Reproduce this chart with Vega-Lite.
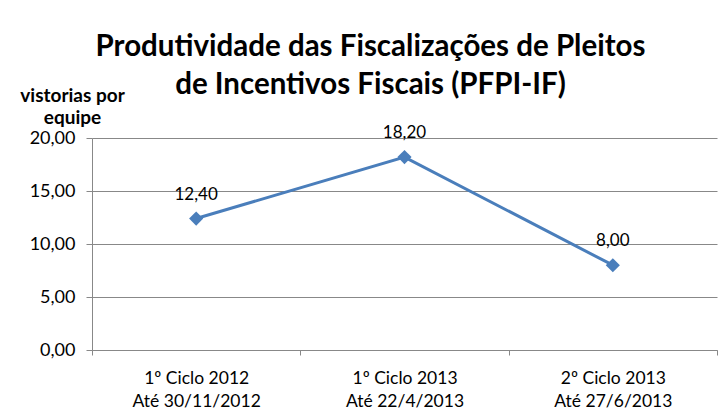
{
  "$schema": "https://vega.github.io/schema/vega-lite/v6.json",
  "width": 625,
  "height": 212,
  "autosize": {"type": "none"},
  "padding": {"left": 92, "top": 138, "right": 9, "bottom": 62},
  "background": "white",
  "config": {
    "locale": {"number": {"decimal": ",", "thousands": ".", "grouping": [3], "currency": ["R$", ""]}},
    "font": "Lato",
    "view": {"stroke": null}
  },
  "title": {
    "text": ["Produtividade das Fiscalizações de Pleitos", "de Incentivos Fiscais (PFPI-IF)"],
    "font": "Lato",
    "fontSize": 29.5,
    "fontWeight": "bold",
    "color": "#000000",
    "anchor": "middle",
    "dx": -34,
    "offset": -14,
    "lineHeight": 38
  },
  "data": {
    "values": [
      {"ciclo": "1º Ciclo 2012|Até 30/11/2012", "valor": 12.4},
      {"ciclo": "1º  Ciclo 2013|Até 22/4/2013", "valor": 18.2},
      {"ciclo": "2º Ciclo 2013|Até 27/6/2013", "valor": 8.0}
    ]
  },
  "encoding": {
    "x": {
      "field": "ciclo",
      "type": "nominal",
      "sort": null,
      "scale": {"paddingInner": 0, "paddingOuter": 0},
      "axis": {
        "title": null,
        "labelAngle": 0,
        "labelExpr": "datum.value ? split(datum.value, '|') : ''",
        "labelFont": "Lato",
        "labelFontSize": 17.5,
        "labelColor": "#000000",
        "labelLineHeight": 23,
        "labelPadding": 14,
        "domainColor": "#888888",
        "tickColor": "#888888",
        "tickSize": 5,
        "tickBand": "extent",
        "grid": false
      }
    },
    "y": {
      "field": "valor",
      "type": "quantitative",
      "scale": {"domain": [0, 20], "nice": false},
      "axis": {
        "values": [0, 5, 10, 15, 20],
        "format": ".2f",
        "title": ["vistorias por", "equipe"],
        "titleAngle": 0,
        "titleFont": "Lato",
        "titleFontSize": 19,
        "titleFontWeight": "bold",
        "titleColor": "#000000",
        "titleAlign": "center",
        "titleBaseline": "alphabetic",
        "titleX": -20,
        "titleY": -37,
        "titleLineHeight": 22,
        "labelFont": "Lato",
        "labelFontSize": 18,
        "labelColor": "#000000",
        "labelPadding": 11,
        "domainColor": "#888888",
        "tickColor": "#888888",
        "tickSize": 6,
        "gridColor": "#888888",
        "gridWidth": 1
      }
    }
  },
  "layer": [
    {
      "mark": {"type": "line", "color": "#4a7ebb", "strokeWidth": 3}
    },
    {
      "mark": {"type": "point", "shape": "diamond", "filled": true, "color": "#4a7ebb", "size": 200, "opacity": 1}
    },
    {
      "mark": {"type": "text", "dy": -19, "baseline": "alphabetic", "fontSize": 17, "font": "Lato", "color": "#000000"},
      "encoding": {"text": {"field": "valor", "type": "quantitative", "format": ".2f"}}
    }
  ]
}
